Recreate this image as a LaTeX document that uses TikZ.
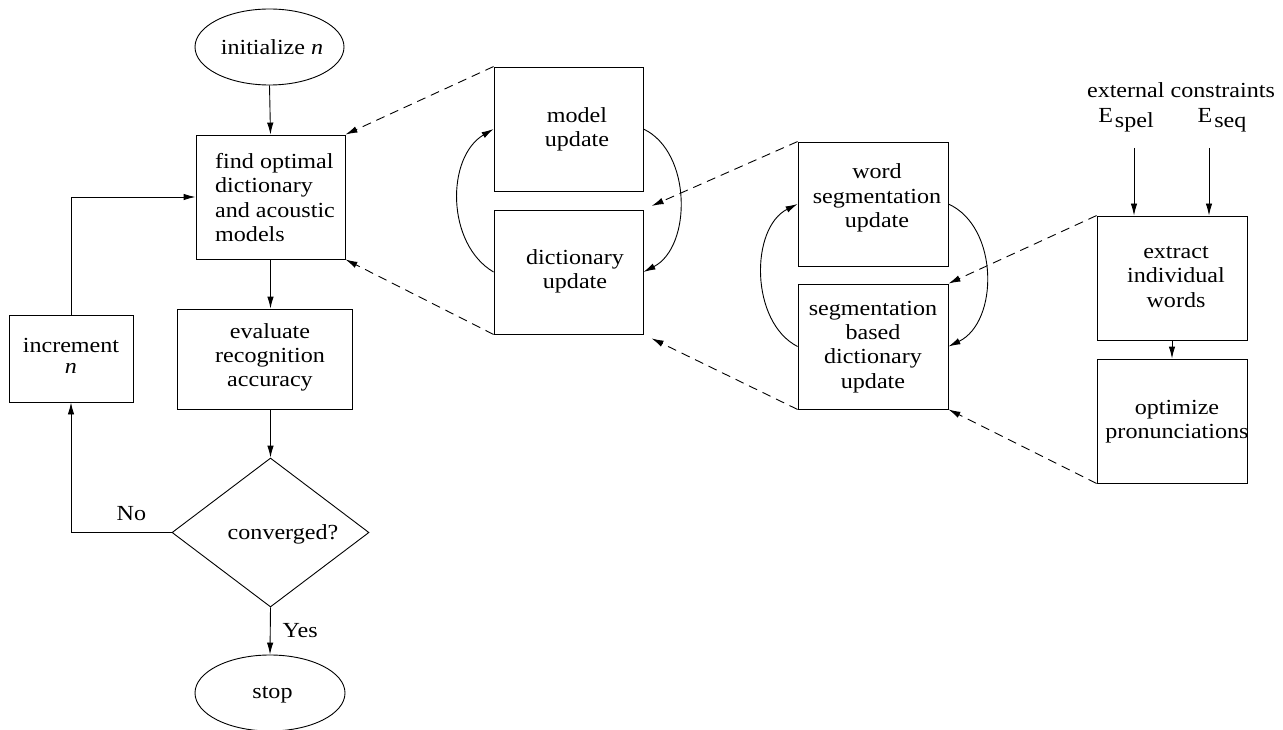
\documentclass[tikz,border=0pt]{standalone}
\usepackage{fontspec}
\setmainfont{Liberation Serif}[FakeStretch=1.12]
\usetikzlibrary{shapes.geometric,arrows.meta,calc}
\begin{document}
\begin{tikzpicture}[x=1pt,y=-1pt,
  every node/.style={font=\fontsize{21.5pt}{24.3pt}\selectfont, inner sep=0pt},
  box/.style={draw, line width=0.9pt, minimum width=149pt, minimum height=124pt},
  txt/.style={align=center},
  oval/.style={draw, ellipse, line width=0.9pt, minimum width=149pt, minimum height=76pt},
  arr/.style={line width=0.9pt, -{Latex[length=12pt,width=6.5pt]}},
  darr/.style={arr, dash pattern=on 9pt off 6pt},
]
\useasboundingbox (0,0) rectangle (1283,730);

% left flow chart
\node[oval] (init) at (269.5,47) {};
\node (initt) at (272,47.5) {initialize \textit{n}};
\node[box] (find) at (270.5,197) {};
\node[align=left, anchor=west] (findt) at (215,197.5) {find optimal\\dictionary\\and acoustic\\models};
\node[box, minimum width=175pt, minimum height=100pt] (eval) at (264.5,359) {};
\node[txt] (evalt) at (270,357.5) {evaluate\\recognition\\accuracy};
\node[box, minimum width=124pt, minimum height=87pt] (incr) at (71,358.5) {};
\node[txt] (incrt) at (71,356) {increment\\[-4pt]\textit{n}};
\node[draw, diamond, line width=0.9pt, minimum width=197pt, minimum height=149pt] (conv) at (270.5,532.5) {};
\node (convt) at (283,534) {converged?};
\node[oval, minimum width=150pt] (stop) at (270,693) {};
\node (stopt) at (272.5,695) {stop};

\draw[arr] (init.south) -- (find.north);
\draw[arr] (find.south) -- (find.south |- eval.north);
\draw[arr] (conv.north |- eval.south) -- (conv.north);
\draw[arr] (conv.south) -- node[midway, right=12pt] {Yes} (stop.north);
\draw[arr] (conv.west) -- node[pos=0.4, above=11pt] {No} (conv.west -| incr.south) -- (incr.south);
\draw[arr] (incr.north) -- (incr.north |- find.west) -- (find.west);

% middle group
\node[box] (model) at (568.5,129) {};
\node[txt] (modelt) at (577,129.5) {model\\update};
\node[box] (dict) at (568.5,272) {};
\node[txt] (dictt) at (575,271.5) {dictionary\\update};

\draw[darr] (model.north west) -- (find.north east);
\draw[darr] (dict.south west) -- (find.south east);
\draw[arr] (dict.west) .. controls (446,244) and (446,157) .. (model.west);
\draw[arr] (model.east) .. controls (692,152) and (692,247) .. (dict.east);

% right group
\node[box, minimum width=150pt] (wseg) at (873,204) {};
\node[txt] (wsegt) at (877,198) {word\\segmentation\\update};
\node[box, minimum width=150pt, minimum height=125pt] (sbd) at (873,346.5) {};
\node[txt] (sbdt) at (873,347) {segmentation\\based\\dictionary\\update};

\draw[darr, shorten >=9pt] (wseg.north west) -- (dict.north east);
\draw[darr, shorten >=9pt] (sbd.south west) -- (dict.south east);
\draw[arr] (sbd.west) .. controls (750,322) and (750,228) .. (wseg.west);
\draw[arr] (wseg.east) .. controls (999,227) and (999,322) .. (sbd.east);

% far right
\node[box, minimum width=150pt] (extr) at (1172,278) {};
\node[txt] (extrt) at (1176,277) {extract\\individual\\words};
\node[box, minimum width=150pt] (opt) at (1172,421) {};
\node[txt] (optt) at (1177,422) {optimize\\pronunciations};
\draw[arr] (extr.south) -- (opt.north);
\draw[darr] (extr.north west) -- (sbd.north east);
\draw[darr] (opt.south west) -- (sbd.south east);

\node (ext) at (1181,90) {external constraints};
\node[anchor=base] (espel) at (1126,123) {E\kern2pt\raisebox{-5pt}{spel}};
\node[anchor=base] (eseq) at (1222,123) {E\kern2pt\raisebox{-5pt}{seq}};
\coordinate (c1) at (1134,148);
\coordinate (c2) at (1209,148);
\draw[arr] (c1) -- (c1 |- extr.north);
\draw[arr] (c2) -- (c2 |- extr.north);
\end{tikzpicture}
\end{document}
